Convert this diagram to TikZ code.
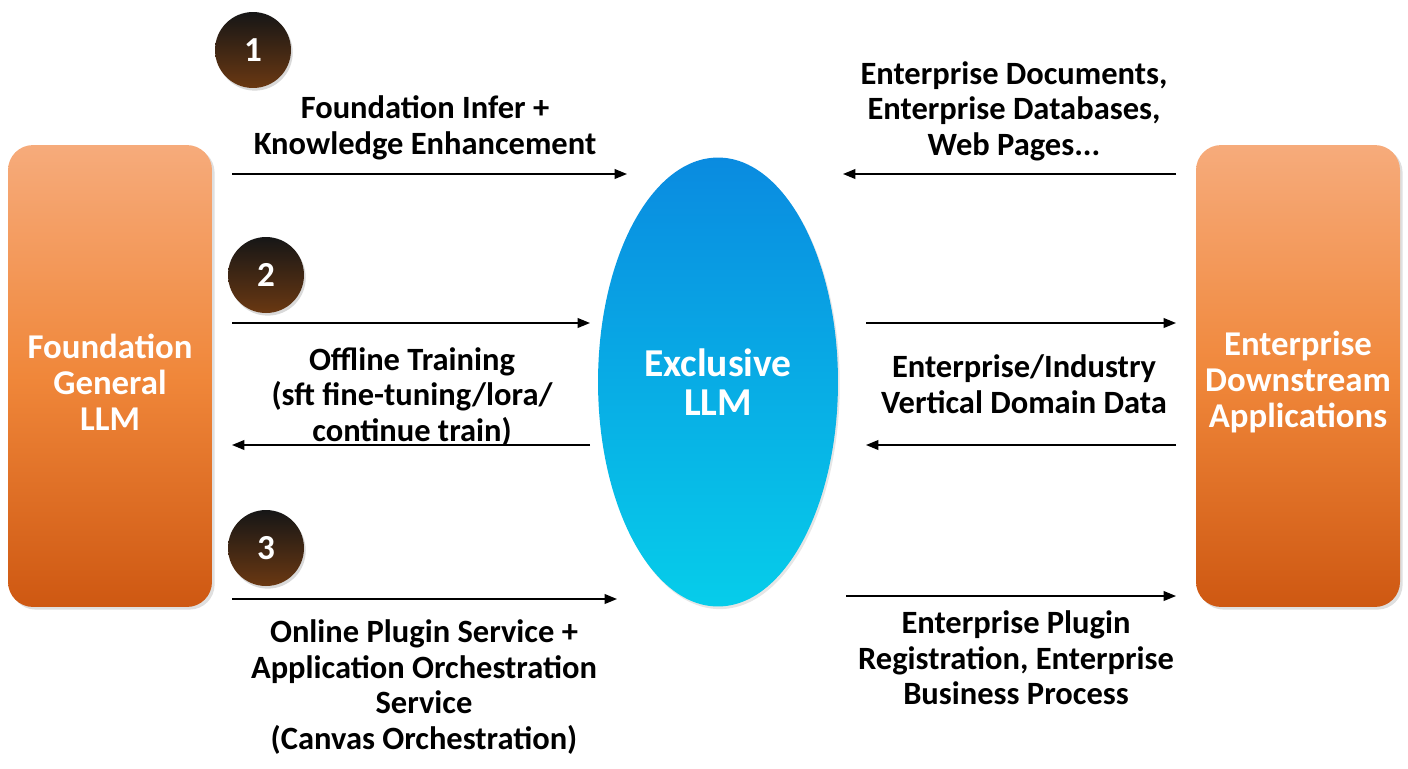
\documentclass[tikz,border=0pt]{standalone}
\usepackage{fontspec}
\setmainfont{Carlito}
\usetikzlibrary{arrows.meta,shapes.geometric,shadows}

\definecolor{orgtop}{HTML}{F6AB7B}
\definecolor{orgmid}{HTML}{F0873A}
\definecolor{orgbot}{HTML}{CE5812}
\definecolor{blutop}{HTML}{0A8BE0}
\definecolor{blubot}{HTML}{06CDEA}
\definecolor{numtop}{HTML}{161616}
\definecolor{numbot}{HTML}{6A3812}

\tikzset{
  sidebox/.style={rectangle, rounded corners=0.5cm, minimum width=4.08cm,
    minimum height=9.24cm, top color=orgtop, bottom color=orgbot, middle color=orgmid,
    draw=none, drop shadow={opacity=0.25, shadow xshift=1.5pt, shadow yshift=-1.5pt}},
  boxtext/.style={text=white, align=center, yshift=-0.12cm,
    font=\bfseries\fontsize{19.8}{20.4}\selectfont},
  numdot/.style={circle, minimum size=1.52cm, top color=numtop, bottom color=numbot,
    draw=none, text=white, font=\bfseries\fontsize{20}{20}\selectfont,
    drop shadow={opacity=0.3, shadow xshift=1pt, shadow yshift=-1.5pt}},
  label/.style={align=center, font=\bfseries\fontsize{18.5}{20.2}\selectfont},
  flow/.style={-{Triangle[length=7pt, width=5.5pt]}, line width=0.9pt}
}

\begin{document}
\begin{tikzpicture}[x=0.02cm, y=-0.02cm]
  \useasboundingbox (0,0) rectangle (1408,768);

  % Main blocks
  \node[sidebox] (fgl) at (110,376) {};
  \node[boxtext] (fgltext) at (fgl.center) {Foundation\\General\\LLM};
  \node[sidebox] (eda) at (1298,376) {};
  \node[boxtext] (edatext) at (eda.center) {Enterprise\\Downstream\\Applications};
  \node[ellipse, minimum width=4.8cm, minimum height=8.98cm, top color=blutop,
    bottom color=blubot, draw=none, text=white, align=center,
    font=\bfseries\fontsize{22.5}{22}\selectfont,
    drop shadow={opacity=0.2, shadow xshift=1pt, shadow yshift=-1.5pt}]
    (xllm) at (718,382) {Exclusive\\LLM};

  % Step numbers
  \node[numdot] (n1) at (253,50) {1};
  \node[numdot] (n2) at (266,275) {2};
  \node[numdot] (n3) at (266,548) {3};

  % Labels
  \node[label] (infer) at (425,128) {Foundation Infer +\\Knowledge Enhancement};
  \node[label] (docs) at (1014,111) {Enterprise Documents,\\Enterprise Databases,\\Web Pages...};
  \node[label] (train) at (412,397) {Offline Training\\(sft fine-tuning/lora/\\continue train)};
  \node[label] (vdata) at (1024,384) {Enterprise/Industry\\Vertical Domain Data};
  \node[label] (plugin) at (424,687) {Online Plugin Service +\\Application Orchestration\\Service\\(Canvas Orchestration)};
  \node[label] (proc) at (1016,658) {Enterprise Plugin\\Registration, Enterprise\\Business Process};

  % Arrow ends
  \coordinate (a1s) at (232,174);  \coordinate (a1e) at (627,174);
  \coordinate (b1s) at (1176,174); \coordinate (b1e) at (843,174);
  \coordinate (a2s) at (232,323);  \coordinate (a2e) at (590,323);
  \coordinate (a3s) at (590,445);  \coordinate (a3e) at (232,445);
  \coordinate (b2s) at (866,323);  \coordinate (b2e) at (1176,323);
  \coordinate (b3s) at (1176,445); \coordinate (b3e) at (866,445);
  \coordinate (a4s) at (232,599);  \coordinate (a4e) at (617,599);
  \coordinate (b4s) at (846,596);  \coordinate (b4e) at (1176,596);

  % Arrows
  \draw[flow] (a1s) -- (a1e);
  \draw[flow] (b1s) -- (b1e);
  \draw[flow] (a2s) -- (a2e);
  \draw[flow] (a3s) -- (a3e);
  \draw[flow] (b2s) -- (b2e);
  \draw[flow] (b3s) -- (b3e);
  \draw[flow] (a4s) -- (a4e);
  \draw[flow] (b4s) -- (b4e);
\end{tikzpicture}
\end{document}
